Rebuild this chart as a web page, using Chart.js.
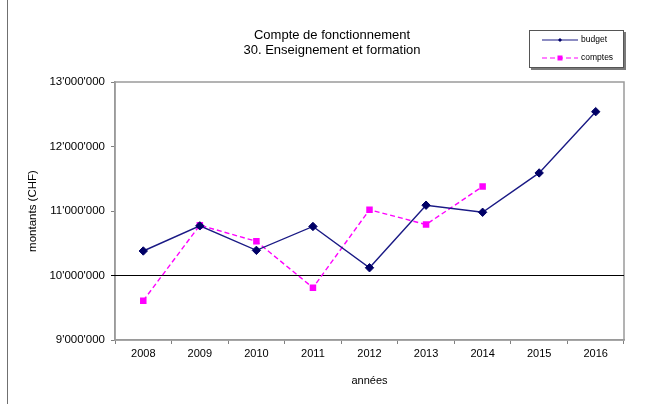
<!DOCTYPE html>
<html>
<head>
<meta charset="utf-8">
<script src="https://cdn.jsdelivr.net/npm/chart.js@4"></script>
<style>
html,body{margin:0;padding:0;background:#fff;}
#c{display:block;}
</style>
</head>
<body>
<canvas id="c" width="647" height="404" style="width:647px;height:404px"></canvas>
<script>
const titleLines = ['Compte de fonctionnement', '30. Enseignement et formation'];
const years = ['2008','2009','2010','2011','2012','2013','2014','2015','2016'];
const budget = [10380000, 10770000, 10390000, 10760000, 10120000, 11090000, 10980000, 11590000, 12540000];
const comptes = [9610000, 10780000, 10530000, 9810000, 11020000, 10790000, 11380000, null, null];
const yTitle = 'montants (CHF)';
const xTitle = 'années';
const yMin = 9000000, yMax = 13000000, yStep = 1000000;
const refLine = 10000000;

const FONT = '"Liberation Sans", Arial, sans-serif';

function fmt(v){ return String(v).replace(/\B(?=(\d{3})+(?!\d))/g, "'"); }

const decor = {
  id: 'decor',
  beforeDatasetsDraw(chart){
    const {ctx, chartArea:a} = chart;
    ctx.save();
    ctx.strokeStyle = '#9a9a9a';
    ctx.lineWidth = 1.5;
    ctx.strokeRect(a.left, a.top, a.right - a.left, a.bottom - a.top);
    const y = chart.scales.y.getPixelForValue(refLine);
    ctx.strokeStyle = '#000';
    ctx.lineWidth = 1.2;
    ctx.beginPath(); ctx.moveTo(a.left - 4, y); ctx.lineTo(a.right, y); ctx.stroke();
    ctx.restore();
  },
  afterDraw(chart){
    const ctx = chart.ctx;
    ctx.save();
    ctx.strokeStyle = '#707070';
    ctx.lineWidth = 1;
    ctx.beginPath(); ctx.moveTo(7.5, 0); ctx.lineTo(7.5, 404); ctx.stroke();
    ctx.fillStyle = '#000';
    ctx.font = '13px ' + FONT;
    ctx.textAlign = 'center';
    ctx.textBaseline = 'middle';
    titleLines.forEach((t, i) => ctx.fillText(t, 332, 35 + i * 15));
    const bx = 529, by = 30, bw = 95, bh = 38;
    ctx.fillStyle = '#7a7a7a';
    ctx.fillRect(bx + 2, by + 2, bw, bh);
    ctx.fillStyle = '#fff';
    ctx.fillRect(bx, by, bw, bh);
    ctx.strokeStyle = '#555';
    ctx.lineWidth = 1;
    ctx.strokeRect(bx + 0.5, by + 0.5, bw - 1, bh - 1);
    chart.data.datasets.forEach((ds, i) => {
      const ly = 40 + i * 18;
      ctx.strokeStyle = ds.borderColor;
      ctx.lineWidth = 1.1;
      ctx.setLineDash(ds.borderDash || []);
      ctx.beginPath(); ctx.moveTo(542, ly); ctx.lineTo(578, ly); ctx.stroke();
      ctx.setLineDash([]);
      ctx.fillStyle = ds.pointBackgroundColor;
      if (ds.pointStyle === 'rectRot') {
        ctx.beginPath();
        ctx.moveTo(560, ly - 2); ctx.lineTo(562, ly); ctx.lineTo(560, ly + 2); ctx.lineTo(558, ly);
        ctx.closePath(); ctx.fill();
      } else {
        ctx.fillRect(557.5, ly - 2.5, 5, 5);
      }
      ctx.fillStyle = '#000';
      ctx.font = '8.5px ' + FONT;
      ctx.textAlign = 'left';
      ctx.textBaseline = 'middle';
      ctx.fillText(ds.label, 581, ly);
    });
    ctx.restore();
  }
};

new Chart(document.getElementById('c'), {
  type: 'line',
  data: {
    labels: years,
    datasets: [
      {
        label: 'budget',
        data: budget,
        borderColor: '#1a1a85',
        borderWidth: 1.4,
        pointStyle: 'rectRot',
        pointRadius: 4.2,
        pointHoverRadius: 4.2,
        pointBackgroundColor: '#000066',
        pointBorderColor: '#000066',
        pointBorderWidth: 1,
        tension: 0
      },
      {
        label: 'comptes',
        data: comptes,
        borderColor: '#ff00ff',
        borderWidth: 1.4,
        borderDash: [5, 3],
        pointStyle: 'rect',
        pointRadius: 4.6,
        pointHoverRadius: 4.6,
        pointBackgroundColor: '#ff00ff',
        pointBorderColor: '#ff00ff',
        pointBorderWidth: 0,
        tension: 0,
        spanGaps: false
      }
    ]
  },
  options: {
    responsive: false,
    devicePixelRatio: 1,
    animation: false,
    layout: { padding: { left: 22, right: 23, top: 82, bottom: 0 } },
    plugins: {
      legend: { display: false },
      title: { display: false },
      tooltip: { enabled: false }
    },
    scales: {
      x: {
        type: 'category',
        offset: true,
        afterFit(s){ s.height = 64; },
        grid: { offset: true, drawOnChartArea: false, drawTicks: true, tickLength: 4, color: '#808080' },
        border: { display: true, color: '#9a9a9a', width: 1.5 },
        ticks: { color: '#000', font: { family: FONT, size: 11 }, padding: 3, maxRotation: 0, autoSkip: false },
        title: { display: true, text: xTitle, color: '#000', font: { family: FONT, size: 11 }, padding: { top: 4, bottom: 16 } }
      },
      y: {
        min: yMin,
        max: yMax,
        afterFit(s){ s.width = 93; },
        grid: { drawOnChartArea: false, drawTicks: true, tickLength: 4, color: '#808080' },
        border: { display: true, color: '#9a9a9a', width: 1.5 },
        ticks: { stepSize: yStep, color: '#000', font: { family: FONT, size: 11.5 }, padding: 6, callback: v => fmt(v) },
        title: { display: true, text: yTitle, color: '#000', font: { family: FONT, size: 11.5 }, padding: { top: 4, bottom: 4 } }
      }
    }
  },
  plugins: [decor]
});
</script>
</body>
</html>
